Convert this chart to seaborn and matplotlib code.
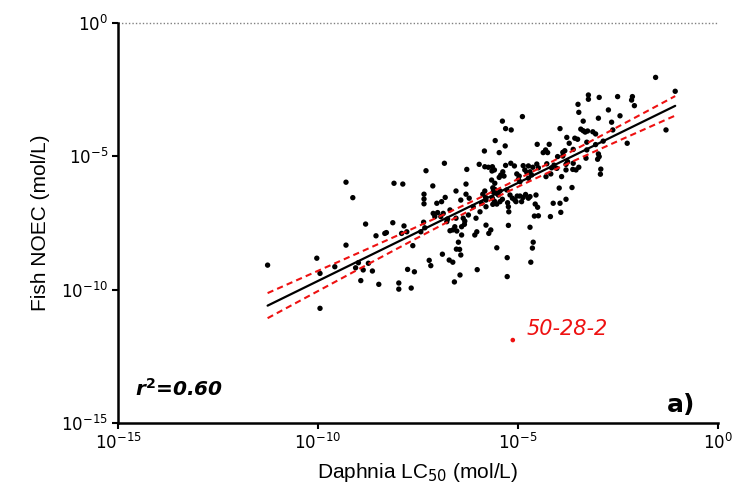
import numpy as np
import pandas as pd
import matplotlib
matplotlib.use("Agg")
import matplotlib.pyplot as plt
import seaborn as sns

# log10 of Daphnia LC50 (mol/L) and Fish NOEC (mol/L)
daphnia_log = [
    -11.26, -10.03, -9.95, -9.95, -9.58, -9.30, -9.30, -9.13, -9.06, -8.99,
    -8.93, -8.87, -8.81, -8.74, -8.64, -8.55, -8.48, -8.33, -8.29, -8.13,
    -8.10, -7.98, -7.98, -7.91, -7.88, -7.85, -7.78, -7.76, -7.67, -7.63,
    -7.59, -7.43, -7.36, -7.33, -7.35, -7.35, -7.35, -7.30, -7.22, -7.18,
    -7.13, -7.12, -7.08, -7.01, -7.03, -6.91, -6.93, -6.87, -6.89, -6.84,
    -6.82, -6.76, -6.78, -6.70, -6.72, -6.63, -6.70, -6.63, -6.58, -6.53,
    -6.59, -6.55, -6.55, -6.54, -6.46, -6.49, -6.43, -6.45, -6.41, -6.43,
    -6.37, -6.33, -6.41, -6.34, -6.30, -6.30, -6.28, -6.22, -6.24, -6.12,
    -6.08, -6.03, -6.05, -6.02, -5.97, -5.95, -5.91, -5.88, -5.84, -5.83,
    -5.83, -5.80, -5.80, -5.81, -5.80, -5.74, -5.73, -5.68, -5.66, -5.64,
    -5.65, -5.59, -5.58, -5.63, -5.62, -5.58, -5.53, -5.64, -5.59, -5.53,
    -5.63, -5.57, -5.53, -5.47, -5.47, -5.43, -5.38, -5.35, -5.45, -5.49,
    -5.45, -5.39, -5.39, -5.32, -5.31, -5.31, -5.28, -5.26, -5.24, -5.23,
    -5.24, -5.27, -5.27, -5.20, -5.18, -5.17, -5.14, -5.08, -5.09, -5.02,
    -4.95, -4.87, -4.74, -4.91, -5.05, -5.03, -4.97, -4.99, -4.95, -4.89,
    -4.87, -4.83, -4.78, -4.70, -4.66, -4.74, -4.74, -4.63, -4.70, -4.68,
    -4.64, -4.62, -4.57, -4.51, -4.59, -4.49, -4.55, -4.53, -4.49, -4.52,
    -4.37, -4.31, -4.26, -4.22, -4.28, -4.30, -4.18, -4.16, -4.12, -4.19,
    -4.81, -4.70, -4.10, -4.03, -4.01, -3.97, -3.95, -3.95, -3.93, -3.91,
    -3.88, -3.83, -3.80, -3.76, -3.80, -3.80, -3.78, -3.72, -3.62, -3.65,
    -3.63, -3.62, -3.58, -3.51, -3.55, -3.48, -3.50, -3.48, -3.43, -3.37,
    -3.37, -3.32, -3.26, -3.28, -3.30, -3.28, -3.24, -3.24, -3.13, -3.06,
    -3.06, -3.01, -2.99, -2.97, -2.99, -2.97, -2.93, -2.94, -2.87, -2.74,
    -2.66, -2.63, -2.51, -2.45, -2.27, -2.14, -2.16, -2.09, -1.56, -1.30,
    -1.07, -3.88,
]
fish_log = [
    -9.08, -8.82, -9.39, -10.70, -9.14, -5.97, -8.33, -6.55, -9.18, -8.99,
    -9.66, -9.26, -7.54, -9.01, -9.30, -7.98, -9.80, -7.89, -7.86, -7.49,
    -6.01, -9.75, -9.98, -7.89, -6.04, -7.61, -7.83, -9.24, -9.94, -8.35,
    -9.33, -7.83, -7.47, -7.68, -6.42, -6.60, -6.78, -5.54, -8.90, -9.10,
    -6.11, -7.14, -7.26, -7.11, -6.76, -6.70, -7.26, -7.14, -8.67, -5.26,
    -6.54, -7.35, -7.45, -7.01, -8.89, -8.97, -7.79, -7.76, -7.64, -7.80,
    -9.71, -6.30, -7.32, -8.48, -8.49, -8.22, -8.70, -9.45, -7.95, -6.64,
    -7.32, -7.43, -7.64, -7.55, -6.04, -6.42, -5.49, -6.57, -7.20, -6.89,
    -7.95, -7.83, -7.32, -9.25, -5.30, -7.08, -6.76, -6.42, -4.80, -5.39,
    -6.30, -6.89, -7.58, -6.54, -6.64, -5.41, -7.89, -7.76, -5.89, -5.39,
    -5.55, -5.51, -6.01, -6.18, -6.33, -6.24, -6.39, -6.57, -6.68, -6.79,
    -6.80, -4.41, -8.43, -4.86, -5.79, -5.70, -5.58, -5.74, -6.30, -6.45,
    -6.70, -6.61, -3.68, -4.61, -3.96, -5.34, -6.26, -6.74, -6.89, -7.08,
    -7.59, -8.80, -9.51, -6.45, -5.26, -4.01, -6.57, -6.64, -5.36, -6.49,
    -6.49, -6.54, -6.57, -6.70, -6.70, -5.66, -5.74, -5.86, -5.95, -3.51,
    -5.35, -5.51, -5.61, -5.58, -5.70, -5.82, -5.36, -5.41, -7.66, -8.97,
    -8.44, -8.22, -6.79, -6.91, -7.24, -7.23, -6.45, -5.29, -5.43, -4.55,
    -4.86, -4.76, -4.86, -4.55, -5.28, -5.76, -5.66, -5.43, -6.76, -7.26,
    -6.43, -6.51, -5.33, -5.45, -5.01, -6.19, -3.96, -6.76, -7.10, -5.76,
    -4.85, -4.79, -5.30, -5.20, -5.51, -6.61, -4.29, -4.51, -4.74, -6.17,
    -5.49, -5.26, -4.32, -4.36, -5.51, -5.41, -3.05, -3.35, -3.98, -4.04,
    -3.68, -4.09, -4.05, -4.47, -5.07, -4.76, -2.70, -2.86, -4.08, -4.16,
    -4.56, -5.11, -4.91, -5.01, -3.57, -2.79, -5.48, -5.67, -4.43, -3.26,
    -3.72, -4.01, -2.76, -3.48, -4.51, -2.76, -2.89, -3.10, -2.04, -4.01,
    -2.56, -4.99,
]

# outlier (CAS 50-28-2), excluded from the regression
outlier_label = "50-28-2"
outlier_daphnia_log = -5.13
outlier_fish_log = -11.89

r2_text = "r$^{\\mathbf{2}}$=0.60"
panel_label = "a)"
tick_values = [1e-15, 1e-10, 1e-5, 1e0]
tick_labels = ["$10^{-15}$", "$10^{-10}$", "$10^{-5}$", "$10^{0}$"]

df = pd.DataFrame({"daphnia": 10.0 ** np.array(daphnia_log),
                   "fish": 10.0 ** np.array(fish_log)})

sns.set_theme(style="ticks")
plt.rcParams["font.family"] = ["DejaVu Sans"]
plt.rcParams["text.color"] = "black"
plt.rcParams["axes.labelcolor"] = "black"
plt.rcParams["xtick.color"] = "black"
plt.rcParams["ytick.color"] = "black"

fig = plt.figure(figsize=(7.41, 4.93), dpi=100)
ax = fig.add_axes([118 / 741, 1 - 423 / 493, 600 / 741, 400 / 493])

sns.scatterplot(data=df, x="daphnia", y="fish", ax=ax, color="black",
                s=15, edgecolor="none", zorder=3)
ax.scatter([10.0 ** outlier_daphnia_log], [10.0 ** outlier_fish_log],
           color="#ee1111", s=11, edgecolor="none", zorder=3)
ax.annotate(outlier_label, (10.0 ** outlier_daphnia_log, 10.0 ** outlier_fish_log),
            xytext=(10, 1), textcoords="offset points", color="#ee1111",
            fontsize=15, style="italic", va="bottom", ha="left")

# linear regression in log space with 95% confidence bands
lx = np.array(daphnia_log)
ly = np.array(fish_log)
n = len(lx)
slope, intercept = np.polyfit(lx, ly, 1)
xs = np.linspace(lx.min(), lx.max(), 200)
ys = intercept + slope * xs
resid = ly - (intercept + slope * lx)
s_err = np.sqrt(np.sum(resid ** 2) / (n - 2))
t = 1.97
se = s_err * np.sqrt(1 / n + (xs - lx.mean()) ** 2 / np.sum((lx - lx.mean()) ** 2))
ax.plot(10 ** xs, 10 ** ys, color="black", lw=1.6, zorder=4)
ax.plot(10 ** xs, 10 ** (ys + t * se), color="#ee1111", lw=1.5, ls=(0, (3, 2)), zorder=4)
ax.plot(10 ** xs, 10 ** (ys - t * se), color="#ee1111", lw=1.5, ls=(0, (3, 2)), zorder=4)

ax.set_xscale("log")
ax.set_yscale("log")
ax.set_xlim(1e-15, 1e0)
ax.set_ylim(1e-15, 1e0)
ax.set_xticks(tick_values)
ax.set_xticklabels(tick_labels)
ax.set_yticks(tick_values)
ax.set_yticklabels(tick_labels)
ax.minorticks_off()
ax.tick_params(axis="both", labelsize=12, length=4, width=1.5, color="black",
               labelcolor="black", pad=3)
ax.axhline(1e0, color="gray", lw=1, ls=(0, (1, 1.5)), clip_on=False, zorder=1)

for side in ["top", "right"]:
    ax.spines[side].set_visible(False)
for side in ["left", "bottom"]:
    ax.spines[side].set_linewidth(1.8)
    ax.spines[side].set_color("black")

ax.set_xlabel("Daphnia LC$_{50}$ (mol/L)", fontsize=15, family="Liberation Sans",
              labelpad=6, color="black")
ax.set_ylabel("Fish NOEC (mol/L)", fontsize=15, family="Liberation Sans",
              labelpad=8, color="black")

ax.text(0.028, 0.085, r2_text, transform=ax.transAxes, fontsize=14.5,
        fontweight="bold", style="italic", ha="left", va="center", color="black")
ax.text(0.962, 0.045, panel_label, transform=ax.transAxes, fontsize=18,
        fontweight="bold", ha="right", va="center", color="black")

fig.savefig("out.png", dpi=100)
